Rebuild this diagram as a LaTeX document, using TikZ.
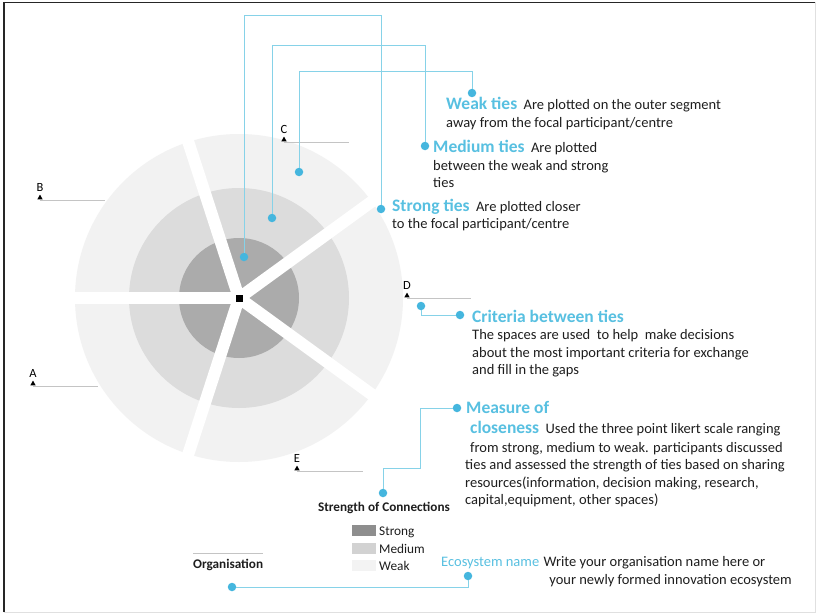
\documentclass[tikz,border=0pt]{standalone}
\usepackage{fontspec}
\setmainfont{Carlito}
\usetikzlibrary{calc}

\definecolor{ringweak}{HTML}{F2F2F2}
\definecolor{ringmed}{HTML}{DCDCDC}
\definecolor{ringstrong}{HTML}{ABABAB}
\definecolor{keystrong}{HTML}{8E8E8E}
\definecolor{keymed}{HTML}{D2D2D2}
\definecolor{keyweak}{HTML}{F3F3F3}
\definecolor{tiecyan}{HTML}{58C0E1}
\definecolor{tieline}{HTML}{86D2E8}
\definecolor{dotcyan}{HTML}{45B6DE}
\definecolor{bodyink}{HTML}{1E1E1E}
\definecolor{rulegray}{HTML}{C4C4C4}

\tikzset{
  tie/.style={draw=tieline, line width=1pt},
  tiedot/.style={circle, fill=dotcyan, inner sep=0pt, minimum size=8.5pt},
  head/.style={font=\bfseries\fontsize{17.5}{20}\selectfont, text=tiecyan, anchor=base west, inner sep=0pt},
  body/.style={font=\fontsize{14.5}{17.5}\selectfont, text=bodyink, anchor=base west, inner sep=0pt},
  keytext/.style={font=\fontsize{13.3}{15}\selectfont, text=bodyink, anchor=base west, inner sep=0pt},
  keybox/.style={inner sep=0pt, minimum width=24pt, minimum height=11pt, anchor=north west},
  boldlabel/.style={font=\bfseries\fontsize{13.2}{15}\selectfont, text=bodyink, inner sep=0pt},
  letter/.style={font=\fontsize{12.5}{13}\selectfont, text=black, anchor=base, inner sep=0pt},
  marker/.style={draw=rulegray, line width=0.8pt},
  spoke/.style={draw=white, line width=12pt}
}

\begin{document}
\begin{tikzpicture}[x=1pt, y=-1pt]
\useasboundingbox (0,0) rectangle (818,615);
\fill[white] (0,0) rectangle (818,615);

% page frame
\draw[line width=1.6pt, black!85] (4,612) -- (4,2.5) -- (815,2.5);
\draw[line width=0.8pt, black!12] (4,612) -- (815,612) -- (815,2.5);

% concentric strength rings
\coordinate (focus) at (239,298);
\fill[ringweak] (focus) circle[radius=164pt];
\fill[ringmed] (focus) circle[radius=110pt];
\fill[ringstrong] (focus) circle[radius=60pt];

% gaps between the five criteria segments
\foreach \a in {36,108,180,252,324}
  \draw[spoke] (focus) -- ++(\a:171pt);

% focal participant
\node[fill=black, minimum size=7pt, inner sep=0pt] (hub) at (focus) {};

% organisation markers A-E
\foreach \name/\lx/\ly/\rx in {A/33/386/98, B/40/200/105, C/284/142/349, D/407/298/471, E/297/471/363} {
  \coordinate (m\name) at (\lx,\ly);
  \coordinate (m\name end) at (\rx,\ly);
  \draw[marker] (m\name) -- (m\name end);
  \fill[black] ($(m\name)+(-2.7,-0.6)$) -- ($(m\name)+(2.7,-0.6)$) -- ($(m\name)+(0,-5.4)$) -- cycle;
  \node[letter] (lab\name) at ($(m\name)+(0,-9)$) {\name};
}

% tie dots inside the rings and at the labels
\node[tiedot] (strongpt) at (244,257) {};
\node[tiedot] (mediumpt) at (272,218) {};
\node[tiedot] (weakpt) at (299,172) {};
\node[tiedot] (strongkey) at (381,209) {};
\node[tiedot] (mediumkey) at (425,146) {};
\node[tiedot] (weakkey) at (472,93) {};
\node[tiedot] (critA) at (421,306) {};
\node[tiedot] (critB) at (460,315) {};
\node[tiedot] (closeA) at (383,493) {};
\node[tiedot] (closeB) at (457,408) {};
\node[tiedot] (orgpt) at (232,587) {};
\node[tiedot] (ecopt) at (468,576) {};

% leader rails
\coordinate (railS) at (0,16);
\coordinate (railM) at (0,46);
\coordinate (railW) at (0,72);
\coordinate (closebend) at (420,468);

\draw[tie] (strongpt) -- (strongpt |- railS) -- (strongkey |- railS) -- (strongkey);
\draw[tie] (mediumpt) -- (mediumpt |- railM) -- (mediumkey |- railM) -- (mediumkey);
\draw[tie] (weakpt) -- (weakpt |- railW) -- (weakkey |- railW) -- (weakkey);
\draw[tie] (critA) |- (critB);
\draw[tie] (closeA) |- (closebend) |- (closeB);
\draw[tie] (orgpt) -| (ecopt);

% weak ties
\node[head] (weakhead) at (446,110) {Weak ties};
\node[body] (weak1) at ($(weakhead.base east)+(6,0)$) {Are plotted on the outer segment};
\node[body] (weak2) at (446,128) {away from the focal participant/centre};

% medium ties
\node[head] (medhead) at (433,152) {Medium ties};
\node[body] (med1) at ($(medhead.base east)+(6,0)$) {Are plotted};
\node[body] (med2) at (433,170) {between the weak and strong};
\node[body] (med3) at (433,187) {ties};

% strong ties
\node[head] (stronghead) at (392,211) {Strong ties};
\node[body] (strong1) at ($(stronghead.base east)+(6,0)$) {Are plotted closer};
\node[body] (strong2) at (392,228) {to the focal participant/centre};

% criteria between ties
\node[head] (crithead) at (472,322) {Criteria between ties};
\node[body] (crit1) at (472,339) {The spaces are used\ \ to help\ \ make decisions};
\node[body] (crit2) at (472,357) {about the most important criteria for exchange};
\node[body] (crit3) at (472,374) {and fill in the gaps};

% measure of closeness
\node[head] (closehead) at (466,413) {Measure of};
\node[head] (closehead2) at (470,433) {closeness};
\node[body] (close1) at ($(closehead2.base east)+(6,0)$) {Used the three point likert scale ranging};
\node[body] (close2) at (470,452) {from strong, medium to weak. participants discussed};
\node[body] (close3) at (465,469) {ties and assessed the strength of ties based on sharing};
\node[body] (close4) at (465,487) {resources(information, decision making, research,};
\node[body] (close5) at (465,504) {capital,equipment, other spaces)};

% legend
\node[boldlabel, anchor=base] (keytitle) at (384,511) {Strength of Connections};
\node[keybox, fill=keystrong] (keyS) at (352,525) {};
\node[keybox, fill=keymed] (keyM) at (352,542.5) {};
\node[keybox, fill=keyweak] (keyW) at (352,560) {};
\node[keytext] (keySt) at (379,535) {Strong};
\node[keytext] (keyMt) at (379,553) {Medium};
\node[keytext] (keyWt) at (379,570) {Weak};

% organisation
\coordinate (orgruleL) at (193,553);
\coordinate (orgruleR) at (263,553);
\draw[draw=rulegray, line width=1pt] (orgruleL) -- (orgruleR);
\node[boldlabel, anchor=base west] (orglabel) at (193,568) {Organisation};

% ecosystem name
\node[body, text=tiecyan] (ecohead) at (441,566) {Ecosystem name};
\node[body] (eco1) at ($(ecohead.base east)+(4,0)$) {Write your organisation name here or};
\node[body, anchor=base east] (eco2) at (792,584) {your newly formed innovation ecosystem};
\end{tikzpicture}
\end{document}
